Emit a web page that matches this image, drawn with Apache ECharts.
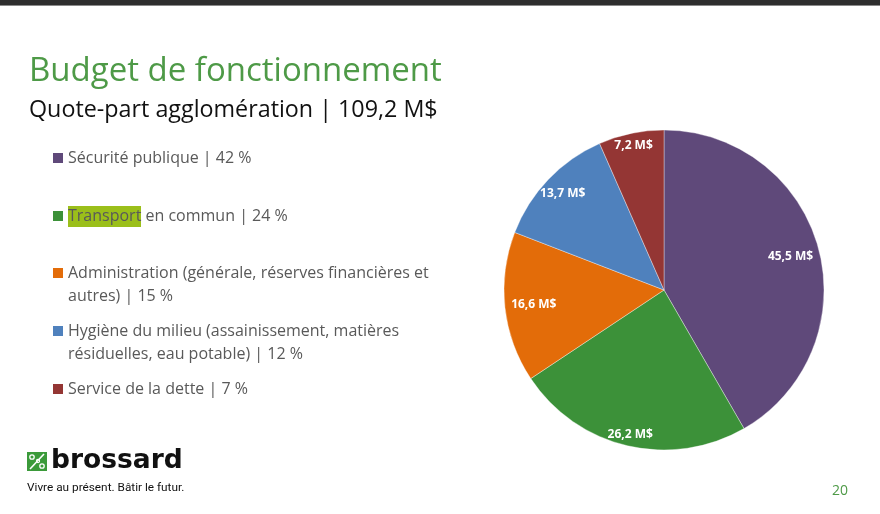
<!DOCTYPE html>
<html>
<head>
<meta charset="utf-8">
<script src="https://cdn.jsdelivr.net/npm/echarts@6/dist/echarts.min.js"></script>
<style>
html,body{margin:0;padding:0;background:#fff;}
#c{width:880px;height:514px;}
</style>
</head>
<body>
<div id="c"></div>
<script>
const categories = [
  "Sécurité publique",
  "Transport en commun",
  "Administration (générale, réserves financières et autres)",
  "Hygiène du milieu (assainissement, matières résiduelles, eau potable)",
  "Service de la dette"
];
const values = [45.5, 26.2, 16.6, 13.7, 7.2];
const percents = [42, 24, 15, 12, 7];
const colors = ["#5F497A", "#3C9139", "#E36C09", "#4F81BD", "#943634"];

const legendLines = [
  ["Sécurité publique | 42 %"],
  ["Transport en commun | 24 %"],
  ["Administration (générale, réserves financières et", "autres) | 15 %"],
  ["Hygiène du milieu (assainissement, matières", "résiduelles, eau potable) | 12 %"],
  ["Service de la dette | 7 %"]
];
const legendY = [158, 216, 273, 331, 389];

const fmt = v => v.toFixed(1).replace('.', ',') + ' M$';

const chart = echarts.init(document.getElementById('c'), null, {renderer: 'canvas'});

const graphics = [
  {type: 'rect', shape: {x: 0, y: 0, width: 880, height: 5}, style: {fill: '#2E2E2E'}},
  {type: 'rect', shape: {x: 0, y: 5, width: 880, height: 1}, style: {fill: '#8a8a8a'}},
  {type: 'text', left: 29, top: 55, style: {text: 'Budget de fonctionnement', font: '33px "Open Sans"', fill: '#4E9A47'}},
  {type: 'text', left: 29, top: 99, style: {text: 'Quote-part agglomération | 109,2 M$', font: '23.3px "Open Sans"', fill: '#111'}},
  // highlight behind "Transport"
  {type: 'rect', shape: {x: 68, y: 206, width: 73, height: 21}, style: {fill: '#9BBF1A'}, z: 1},
  // page number
  {type: 'text', left: 832, top: 484, style: {text: '20', font: '14px "Open Sans"', fill: '#4E9A47'}},
  // logo
  {type: 'rect', shape: {x: 27, y: 452, width: 20, height: 19}, style: {fill: '#3B9A3A'}},
  {type: 'line', shape: {x1: 30, y1: 469, x2: 44, y2: 454}, style: {stroke: '#fff', lineWidth: 1.6}},
  {type: 'circle', shape: {cx: 32, cy: 457, r: 2.2}, style: {fill: 'none', stroke: '#fff', lineWidth: 1.3}},
  {type: 'circle', shape: {cx: 42, cy: 466, r: 2.2}, style: {fill: 'none', stroke: '#fff', lineWidth: 1.3}},
  {type: 'circle', shape: {cx: 38, cy: 461, r: 1.6}, style: {fill: 'none', stroke: '#fff', lineWidth: 1.1}},
  {type: 'text', left: 51, top: 448, style: {text: 'brossard', font: 'bold 26.5px "DejaVu Sans"', fill: '#111'}},
  {type: 'text', left: 27, top: 482, style: {text: 'Vivre au présent. Bâtir le futur.', font: '11.8px Roboto', fill: '#111'}}
];

legendLines.forEach((lines, i) => {
  graphics.push({type: 'rect', shape: {x: 53, y: legendY[i] - 5, width: 10, height: 10}, style: {fill: colors[i]}});
  lines.forEach((t, j) => {
    graphics.push({type: 'text', left: 68, top: legendY[i] - 8 + j * 23, z: 2,
      style: {text: t, font: '16px "Open Sans"', fill: '#595959'}});
  });
});

const data = categories.map((c, i) => ({name: c, value: values[i], itemStyle: {color: colors[i]}}));

// label rings: which slices get their label on which ring
const ringA = [true, false, true, false, false];
const ringB = [false, true, false, false, true];
const ringC = [false, false, false, true, false];
function overlay(radius, mask) {
  return {
    type: 'pie',
    center: [664, 290],
    radius: radius,
    startAngle: 90,
    clockwise: true,
    silent: true,
    label: {show: true, position: 'inside', color: '#fff', fontWeight: 'bold', fontSize: 12,
      fontFamily: '"Open Sans"', overflow: 'none', formatter: p => fmt(p.value)},
    labelLine: {show: false},
    data: categories.map((c, i) => ({name: c, value: values[i],
      itemStyle: {color: 'rgba(0,0,0,0)', borderWidth: 0},
      label: {show: mask[i]}}))
  };
}

chart.setOption({
  animation: false,
  graphic: graphics,
  series: [
    {
      type: 'pie',
      center: [664, 290],
      radius: [0, 160],
      startAngle: 90,
      clockwise: true,
      label: {show: false},
      labelLine: {show: false},
      itemStyle: {borderColor: 'rgba(255,255,255,0.6)', borderWidth: 0.6},
      data: data
    },
    overlay([60, 196], ringA),
    overlay([90, 200], ringB),
    overlay([74, 200], ringC)
  ]
});
</script>
</body>
</html>
